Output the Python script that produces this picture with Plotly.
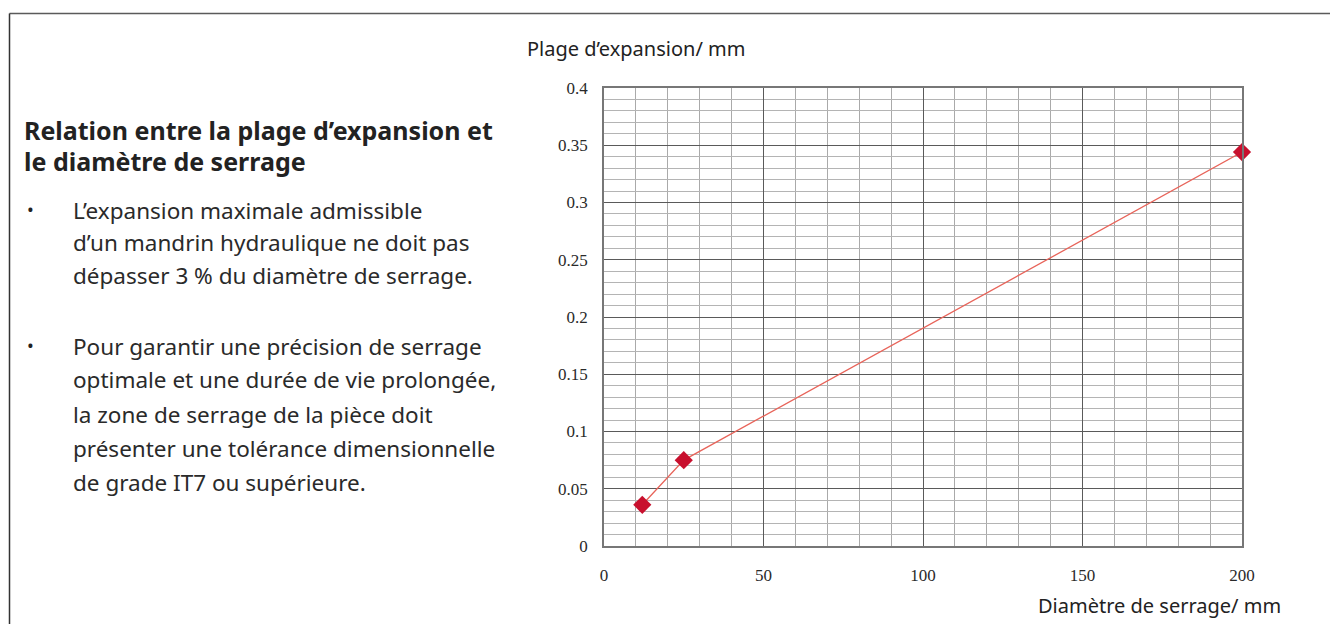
import plotly.graph_objects as go

# Data
diameters = [12, 25, 200]
expansion = [0.036, 0.075, 0.344]

title_lines = ["Relation entre la plage d\u2019expansion et", "le diam\u00e8tre de serrage"]
bullet1 = ["L\u2019expansion maximale admissible",
           "d\u2019un mandrin hydraulique ne doit pas",
           "d\u00e9passer 3 % du diam\u00e8tre de serrage."]
bullet2 = ["Pour garantir une pr\u00e9cision de serrage",
           "optimale et une dur\u00e9e de vie prolong\u00e9e,",
           "la zone de serrage de la pi\u00e8ce doit",
           "pr\u00e9senter une tol\u00e9rance dimensionnelle",
           "de grade IT7 ou sup\u00e9rieure."]
y_title = "Plage d\u2019expansion/ mm"
x_title = "Diam\u00e8tre de serrage/ mm"

OFF = 8  # page body margin
W, H = 1338, 624
L, T = 604 - OFF, 88 - OFF
R = W - (1242 - OFF)
B = H - (546 - OFF)
PW, PH = W - L - R, H - T - B

def px(x):
    return (x - OFF - L) / PW

def py(y):
    return (H - B - (y - OFF)) / PH

fig = go.Figure()
fig.add_trace(go.Scatter(
    x=diameters, y=expansion, mode="lines+markers",
    line=dict(color="#e8645a", width=1.3),
    marker=dict(symbol="diamond", size=14, color="#c8102e"),
    showlegend=False, cliponaxis=False,
))

tickfont = dict(family="Liberation Serif, DejaVu Serif, serif", size=17, color="#2a2a2a")
fig.update_xaxes(
    range=[0, 200], dtick=50, tick0=0, showgrid=True, gridcolor="#5a5a5a", gridwidth=1,
    minor=dict(dtick=10, showgrid=True, gridcolor="#aaaaaa", gridwidth=1),
    showline=True, linecolor="#777777", linewidth=1.5, mirror=True,
    zeroline=False, tickfont=tickfont, ticks="", ticklabelstandoff=13, fixedrange=True,
)
fig.update_yaxes(
    range=[0, 0.4], dtick=0.05, tick0=0, showgrid=True, gridcolor="#5a5a5a", gridwidth=1,
    minor=dict(dtick=0.01, showgrid=True, gridcolor="#b4b4b4", gridwidth=1),
    showline=True, linecolor="#777777", linewidth=1.5, mirror=True,
    zeroline=False, tickfont=tickfont, ticks="", ticklabelstandoff=11, fixedrange=True,
)

sans = "Noto Sans, Open Sans, sans-serif"
anns = []
anns.append(dict(x=px(525), y=py(48), text=y_title, xanchor="left", yanchor="middle",
                 font=dict(family=sans, size=20, color="#222222")))
anns.append(dict(x=px(1283), y=py(605), text=x_title, xanchor="right", yanchor="middle",
                 font=dict(family=sans, size=20, color="#222222")))
for i, t in enumerate(title_lines):
    anns.append(dict(x=px(22), y=py(130 + 31 * i), text="<b>" + t + "</b>", xanchor="left",
                     yanchor="middle", font=dict(family=sans, size=25, color="#222222")))
for i, t in enumerate(bullet1):
    anns.append(dict(x=px(71), y=py(210 + 32.5 * i), text=t, xanchor="left", yanchor="middle",
                     font=dict(family=sans, size=22.5, color="#2a2a2a")))
anns.append(dict(x=px(25), y=py(209), text="\u2022", xanchor="left", yanchor="middle",
                 font=dict(family=sans, size=18, color="#222222")))
for i, t in enumerate(bullet2):
    anns.append(dict(x=px(71), y=py(346 + 34 * i), text=t, xanchor="left", yanchor="middle",
                     font=dict(family=sans, size=22.5, color="#2a2a2a")))
anns.append(dict(x=px(25), y=py(345), text="\u2022", xanchor="left", yanchor="middle",
                 font=dict(family=sans, size=18, color="#222222")))
for a in anns:
    a.update(xref="paper", yref="paper", showarrow=False)

shapes = [
    dict(type="line", xref="paper", yref="paper", x0=px(9.5), x1=px(1345), y0=py(13.5), y1=py(13.5),
         line=dict(color="#5a5a5a", width=1.5)),
    dict(type="line", xref="paper", yref="paper", x0=px(9.5), x1=px(9.5), y0=py(13.5), y1=py(640),
         line=dict(color="#333333", width=1.5)),
]

fig.update_layout(
    width=W, height=H, margin=dict(l=L, r=R, t=T, b=B),
    paper_bgcolor="white", plot_bgcolor="white",
    annotations=anns, shapes=shapes,
)

fig.write_html("out.html")
